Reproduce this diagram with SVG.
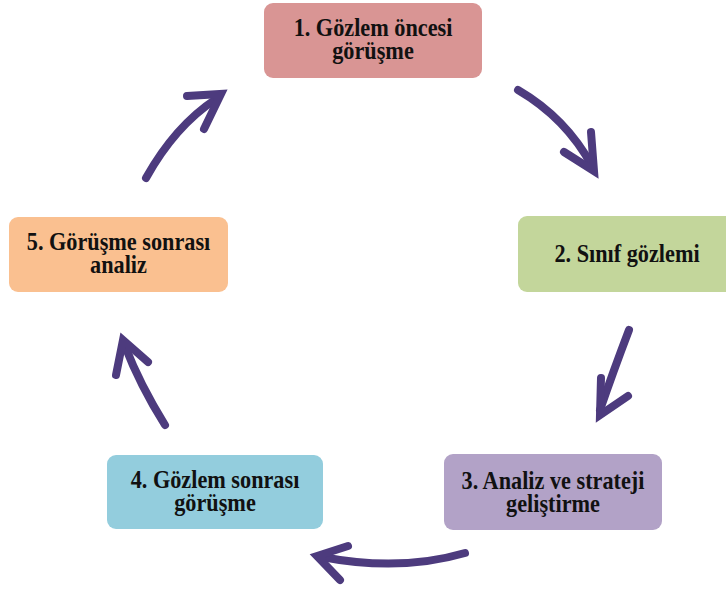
<svg xmlns="http://www.w3.org/2000/svg" width="726" height="596" viewBox="0 0 726 596">
  <style>
    .box { stroke: none; }
    .lbl { font-family: "Liberation Serif", "Times New Roman", serif; font-weight: bold; font-size: 25px; fill: #111111; text-anchor: middle; }
    .shaft { fill: none; stroke: #4d3b7e; stroke-width: 8; stroke-linecap: round; }
    .head { fill: none; stroke: #4d3b7e; stroke-width: 8; stroke-linecap: round; stroke-linejoin: miter; stroke-miterlimit: 6; }
  </style>
  <rect width="726" height="596" fill="#ffffff"/>

  <g id="connectors">
    <g id="a1-2">
      <path class="shaft" d="M518,90 Q566,118 592,166"/>
      <polyline class="head" points="564,152 594,171 591,132"/>
    </g>
    <g id="a2-3">
      <path class="shaft" d="M629,330 Q613,372 600,410"/>
      <polyline class="head" points="601,378 600,415 628,396"/>
    </g>
    <g id="a3-4">
      <path class="shaft" d="M465,553 Q400,572 322,557"/>
      <polyline class="head" points="348,546 317,556 340,580"/>
    </g>
    <g id="a4-5">
      <path class="shaft" d="M165,425 Q140,385 125,346"/>
      <polyline class="head" points="116,375 123,340 148,362"/>
    </g>
    <g id="a5-1">
      <path class="shaft" d="M146,178 Q175,126 216,99"/>
      <polyline class="head" points="187,96 221,94 204,129"/>
    </g>
  </g>

  <g id="n1">
    <rect class="box" x="264" y="3" width="218" height="75" rx="9" fill="#d99594"/>
    <g transform="translate(373,0) scale(0.89,1)">
      <text class="lbl" x="0" y="36">1. Gözlem öncesi</text>
      <text class="lbl" x="0" y="59">görüşme</text>
    </g>
  </g>

  <g id="n2">
    <rect class="box" x="518" y="216" width="218" height="76" rx="9" fill="#c3d69b"/>
    <g transform="translate(627,0) scale(0.89,1)">
      <text class="lbl" x="0" y="262">2. Sınıf gözlemi</text>
    </g>
  </g>

  <g id="n3">
    <rect class="box" x="444" y="454" width="218" height="76" rx="9" fill="#b2a2c7"/>
    <g transform="translate(553,0) scale(0.89,1)">
      <text class="lbl" x="0" y="489">3. Analiz ve strateji</text>
      <text class="lbl" x="0" y="512">geliştirme</text>
    </g>
  </g>

  <g id="n4">
    <rect class="box" x="107" y="455" width="216" height="74" rx="9" fill="#93cddd"/>
    <g transform="translate(215,0) scale(0.89,1)">
      <text class="lbl" x="0" y="488">4. Gözlem sonrası</text>
      <text class="lbl" x="0" y="511">görüşme</text>
    </g>
  </g>

  <g id="n5">
    <rect class="box" x="9" y="217" width="219" height="75" rx="9" fill="#fac090"/>
    <g transform="translate(118.5,0) scale(0.89,1)">
      <text class="lbl" x="0" y="250">5. Görüşme sonrası</text>
      <text class="lbl" x="0" y="273">analiz</text>
    </g>
  </g>
</svg>
